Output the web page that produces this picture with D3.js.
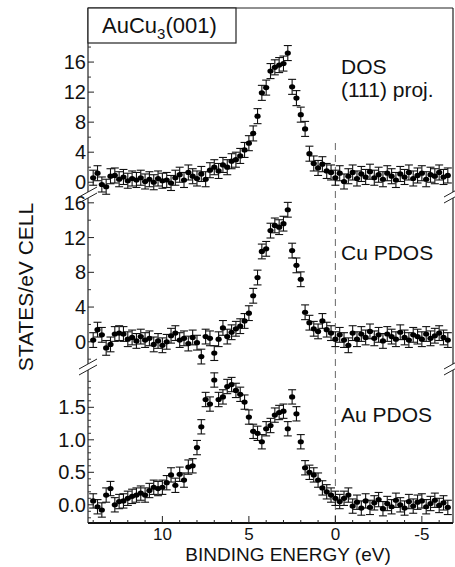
<!DOCTYPE html>
<html>
<head>
<meta charset="utf-8">
<script src="https://cdn.jsdelivr.net/npm/d3@7"></script>
<style>
  body { margin: 0; background: #fff; }
  text { font-family: "Liberation Sans", Arial, sans-serif; fill: #111; }
</style>
</head>
<body>
<script>
// binding energy grid (eV), same for the three curves
const energy = [
  14.0, 13.75, 13.5, 13.25, 13.0, 12.75, 12.5, 12.25, 12.0, 11.75, 11.5, 11.25,
  11.0, 10.75, 10.5, 10.25, 10.0, 9.75, 9.5, 9.25, 9.0, 8.75, 8.5, 8.25,
  8.0, 7.75, 7.5, 7.25, 7.0, 6.75, 6.5, 6.25, 6.0, 5.75, 5.5, 5.25,
  5.0, 4.75, 4.5, 4.25, 4.0, 3.75, 3.5, 3.25, 3.0, 2.75, 2.5, 2.25,
  2.0, 1.75, 1.5, 1.25, 1.0, 0.75, 0.5, 0.25, 0.0, -0.25, -0.5, -0.75,
  -1.0, -1.25, -1.5, -1.75, -2.0, -2.25, -2.5, -2.75, -3.0, -3.25, -3.5, -3.75,
  -4.0, -4.25, -4.5, -4.75, -5.0, -5.25, -5.5, -5.75, -6.0, -6.25, -6.5
];

// DOS (111) projection
const dosValues = [
  0.6, 1.2, -0.3, -0.6, 0.8, 0.9, 0.4, 0.7, 0.2, 0.5, 0.3, 0.6,
  0.1, 0.4, 0.0, 0.5, 0.2, 0.3, -0.1, 0.6, 1.0, 0.3, 1.3, 0.8,
  0.5, 1.1, 0.4, 1.6, 2.0, 1.5, 2.3, 2.0, 2.8, 3.0, 3.5, 4.3,
  5.2, 6.5, 8.8, 11.9, 12.6, 14.8, 15.3, 15.6, 15.8, 17.2, 12.7, 11.2,
  9.0, 7.1, 3.8, 2.5, 1.9, 2.4, 1.5, 1.3, 0.6, 1.2, 0.1, 0.8,
  1.3, 0.5, 1.1, 0.7, 1.4, 0.6, 1.0, 0.4, 1.2, 0.8, 0.3, 1.1,
  0.7, 1.3, 0.5, 0.9, 1.2, 0.4, 1.0, 0.8, 1.3, 0.7, 0.9
];

// Cu partial DOS
const cuValues = [
  0.2, 1.4, 0.8, -0.7, -0.3, 0.9, 1.0, 0.9, 0.3, 0.5, 0.1, 0.6,
  0.2, 0.4, -0.3, 0.1, -0.4, 0.0, 0.7, 1.0, 0.2, 0.4, -0.2, 0.5,
  -0.1, -1.7, 0.6, 0.4, -1.3, 0.3, 1.6, 0.6, 1.1, 1.5, 1.8, 2.4,
  3.3, 5.3, 7.4, 10.4, 10.7, 12.8, 13.4, 13.2, 13.6, 15.2, 10.5, 8.8,
  7.2, 3.4, 2.2, 1.5, 1.2, 2.4, 1.4, 1.0, 0.3, 0.8, 0.2, -0.4,
  1.0, 0.3, 0.9, 0.5, 1.2, 0.4, 0.8, 0.1, 0.9, 0.6, 0.3, 1.1,
  0.5, 0.2, 0.8, 0.6, 0.3, 0.9, 0.4, 0.7, 1.0, 0.5, 0.2
];

// Au partial DOS
const auValues = [
  0.06, -0.03, -0.08, 0.15, 0.25, 0.0, 0.05, 0.06, 0.1, 0.13, 0.15, 0.18,
  0.15, 0.22, 0.27, 0.25, 0.27, 0.34, 0.46, 0.3, 0.47, 0.38, 0.58, 0.6,
  0.88, 1.2, 1.62, 1.55, 1.92, 1.62, 1.66, 1.82, 1.85, 1.76, 1.7, 1.58,
  1.35, 1.13, 1.1, 0.97, 1.17, 1.22, 1.38, 1.42, 1.44, 1.17, 1.66, 1.4,
  0.97, 0.57, 0.5, 0.46, 0.38, 0.26, 0.2, 0.15, 0.1, 0.05, 0.1, 0.15,
  -0.02, 0.04, -0.05, 0.06, -0.04, 0.03, 0.08, -0.06, 0.02, -0.03, 0.07, 0.0,
  -0.05, 0.05, -0.02, 0.04, 0.06, -0.03, 0.02, 0.07, -0.01, 0.03, -0.04
];

const xTicks = [10, 5, 0, -5];
const dosTicks = [0, 4, 8, 12, 16];
const cuTicks = [0, 4, 8, 12, 16];
const auTicks = [0.0, 0.5, 1.0, 1.5];

const W = 455, H = 567;
const mLeft = 88, mRight = 453, mTop = 8, mBottom = 523;

const svg = d3.select("body")
    .append("svg")
    .attr("width", W)
    .attr("height", H);

const x = d3.scaleLinear().domain([14.3, -6.8]).range([mLeft, mRight]);

const panels = [
  { values: dosValues, err: 1.0, domain: [-1.7, 23.2], range: [195, mTop],
    ticks: dosTicks, minor: d3.range(2, 23, 4), fmt: d3.format("d"),
    label: ["DOS", "(111) proj."], labelY: 74 },
  { values: cuValues, err: 0.85, domain: [-2.9, 16.9], range: [367, 195],
    ticks: cuTicks, minor: d3.range(-2, 17, 4), fmt: d3.format("d"),
    label: ["Cu PDOS"], labelY: 260 },
  { values: auValues, err: 0.11, domain: [-0.28, 2.12], range: [mBottom, 367],
    ticks: auTicks, minor: d3.range(-2, 21).map(d => d / 10).filter(d => Math.round(d * 10) % 5 !== 0),
    fmt: d3.format(".1f"), label: ["Au PDOS"], labelY: 422 }
];

// frame: top edge and bottom axis
svg.append("line").attr("x1", mLeft).attr("x2", mRight).attr("y1", mTop).attr("y2", mTop)
    .attr("stroke", "#222").attr("stroke-width", 1.2);
svg.append("line").attr("x1", mLeft).attr("x2", mRight).attr("y1", mBottom).attr("y2", mBottom)
    .attr("stroke", "#111").attr("stroke-width", 1.8);

// vertical dashed line at the Fermi level
svg.append("line")
    .attr("x1", x(0)).attr("x2", x(0))
    .attr("y1", 143).attr("y2", mBottom)
    .attr("stroke", "#666").attr("stroke-width", 1)
    .attr("stroke-dasharray", "7,5");

panels.forEach((p, i) => {
  const y = d3.scaleLinear().domain(p.domain).range(p.range);
  const g = svg.append("g");
  const y0 = p.range[0] - (i < 2 ? 3 : 0);
  const y1 = p.range[1] + (i > 0 ? 3 : 0);

  // left and right edges of this panel
  [mLeft, mRight].forEach(xx => {
    g.append("line").attr("x1", xx).attr("x2", xx).attr("y1", y0).attr("y2", y1)
        .attr("stroke", "#222").attr("stroke-width", 1.2);
  });

  // y ticks pointing inwards
  g.selectAll(".major").data(p.ticks).join("line")
      .attr("class", "major")
      .attr("x1", mLeft).attr("x2", mLeft + 6)
      .attr("y1", d => y(d)).attr("y2", d => y(d))
      .attr("stroke", "#222");
  g.selectAll(".minor").data(p.minor.filter(d => y(d) < y0 - 1 && y(d) > y1 + 1)).join("line")
      .attr("class", "minor")
      .attr("x1", mLeft).attr("x2", mLeft + 3)
      .attr("y1", d => y(d)).attr("y2", d => y(d))
      .attr("stroke", "#333");
  g.selectAll(".tlab").data(p.ticks).join("text")
      .attr("class", "tlab")
      .attr("x", mLeft - 2).attr("y", d => y(d) + 7)
      .attr("text-anchor", "end")
      .style("font-size", "20px")
      .text(d => p.fmt(d));

  // error bars
  const pts = energy.map((e, k) => ({ e: e, v: p.values[k] }));
  const eb = g.append("g").attr("stroke", "#111").attr("stroke-width", 1.1);
  eb.selectAll(".bar").data(pts).join("line")
      .attr("class", "bar")
      .attr("x1", d => x(d.e)).attr("x2", d => x(d.e))
      .attr("y1", d => y(d.v - p.err)).attr("y2", d => y(d.v + p.err));
  eb.selectAll(".capT").data(pts).join("line")
      .attr("class", "capT")
      .attr("x1", d => x(d.e) - 4).attr("x2", d => x(d.e) + 4)
      .attr("y1", d => y(d.v + p.err)).attr("y2", d => y(d.v + p.err));
  eb.selectAll(".capB").data(pts).join("line")
      .attr("class", "capB")
      .attr("x1", d => x(d.e) - 4).attr("x2", d => x(d.e) + 4)
      .attr("y1", d => y(d.v - p.err)).attr("y2", d => y(d.v - p.err));

  g.selectAll(".dot").data(pts).join("ellipse")
      .attr("class", "dot")
      .attr("cx", d => x(d.e)).attr("cy", d => y(d.v))
      .attr("rx", 3.1).attr("ry", 2.6)
      .attr("fill", "#000");

  // panel label
  p.label.forEach((t, k) => {
    g.append("text")
        .attr("x", 341).attr("y", p.labelY + k * 23)
        .style("font-size", "21px")
        .text(t);
  });
});

// axis breaks "//"
[195, 367].forEach(by => {
  [mLeft, mRight].forEach(bx => {
    [-3, 3].forEach(off => {
      svg.append("line")
          .attr("x1", bx - 9).attr("y1", by + off + 5)
          .attr("x2", bx + 9).attr("y2", by + off - 5)
          .attr("stroke", "#222").attr("stroke-width", 1);
    });
  });
});

// bottom axis ticks
svg.selectAll(".xminor").data(d3.range(-6, 15)).join("line")
    .attr("class", "xminor")
    .attr("x1", d => x(d)).attr("x2", d => x(d))
    .attr("y1", mBottom).attr("y2", d => xTicks.includes(d) ? mBottom - 7 : mBottom - 3)
    .attr("stroke", "#222");
svg.selectAll(".xlab").data(xTicks).join("text")
    .attr("class", "xlab")
    .attr("x", d => x(d)).attr("y", 540)
    .attr("text-anchor", "middle")
    .style("font-size", "17px")
    .text(d => d < 0 ? "-" + Math.abs(d) : d);

svg.append("text")
    .attr("x", 288).attr("y", 561)
    .attr("text-anchor", "middle")
    .style("font-size", "19px")
    .text("BINDING ENERGY (eV)");

svg.append("text")
    .attr("transform", "translate(33,287) rotate(-90)")
    .attr("text-anchor", "middle")
    .style("font-size", "21px")
    .text("STATES/eV CELL");

// sample label box
svg.append("rect")
    .attr("x", mLeft).attr("y", mTop)
    .attr("width", 148).attr("height", 35)
    .attr("fill", "#fff").attr("stroke", "#222").attr("stroke-width", 1.2);
const lab = svg.append("text")
    .attr("x", 102).attr("y", 33)
    .style("font-size", "22px");
lab.append("tspan").text("AuCu");
lab.append("tspan").attr("dy", 6).style("font-size", "15px").text("3");
lab.append("tspan").attr("dy", -6).text("(001)");
</script>
</body>
</html>
